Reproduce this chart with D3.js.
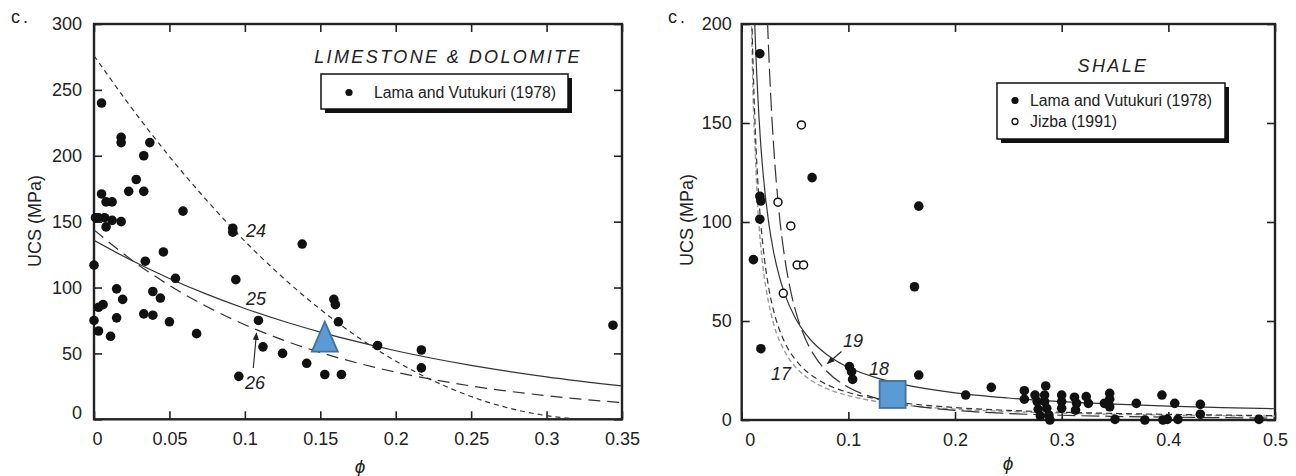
<!DOCTYPE html>
<html><head><meta charset="utf-8">
<script src="https://cdn.jsdelivr.net/npm/d3@7"></script>
<style>
body{margin:0;background:#fff;}
svg{display:block;font-family:"Liberation Sans",Arial,Helvetica,sans-serif;}
</style>
</head><body>
<svg id="chart" width="1296" height="476"></svg>
<script>
// ---------- LIMESTONE & DOLOMITE (left panel) ----------
const limeXTicks = [0, 0.05, 0.1, 0.15, 0.2, 0.25, 0.3, 0.35];
const limeYTicks = [0, 50, 100, 150, 200, 250, 300];
const limePhi = [0.005,0.018,0.018,0.037,0.033,0.028,0.023,0.033,0.005,0.008,0.012,0.059,0.001,0.003,0.007,0.012,0.018,0.008,0.092,0.092,
  0.000,0.034,0.046,0.054,0.094,0.138,0.015,0.019,0.006,0.003,0.039,0.044,0.033,0.039,0.050,0.015,0.000,0.003,0.011,0.068,
  0.109,0.112,0.125,0.141,0.096,0.153,0.164,0.159,0.160,0.162,0.188,0.217,0.217,0.344];
const limeUCS = [240,214,210,210,200,182,173,173,171,165,165,158,153,153,153,151,150,146,145,142,
  117,120,127,107,106,133,99,91,87,85,97,92,80,79,74,77,75,67,63,65,
  75,55,50,42.5,32.6,34,34,91,87,74,56,52.6,39,71.4];
// curve 24 (short dash)
const lime24Phi = [0,0.025,0.05,0.075,0.1,0.125,0.15,0.175,0.2,0.225,0.25,0.275,0.3,0.32,0.333];
const lime24UCS = [276,236.2,199.4,165.8,135.2,107.8,83.5,62.3,44.2,29.2,17.3,8.5,2.8,0.4,0];
// curve 25 (solid)
const lime25Phi = [0,0.025,0.05,0.075,0.1,0.125,0.15,0.175,0.2,0.25,0.3,0.35];
const lime25UCS = [135.9,120.5,106.9,94.8,84.1,74.6,66.2,58.7,52.0,40.9,32.2,25.3];
// curve 26 (long dash)
const lime26Phi = [0,0.025,0.05,0.075,0.1,0.125,0.15,0.175,0.2,0.25,0.3,0.35];
const lime26UCS = [143.8,120.9,101.6,85.4,71.8,60.3,50.7,42.6,35.8,25.3,17.9,12.6];
const limeStudyPhi = [0.153];
const limeStudyUCS = [62.7];

// ---------- SHALE (right panel) ----------
const shaleXTicks = [0, 0.1, 0.2, 0.3, 0.4, 0.5];
const shaleYTicks = [0, 50, 100, 150, 200];
const shaleLamaPhi = [0.017,0.017,0.018,0.017,0.066,0.166,0.011,0.162,0.018,0.101,0.103,0.104,0.166,0.210,0.234,
  0.265,0.265,0.275,0.277,0.278,0.280,0.285,0.284,0.284,0.286,0.288,0.289,0.300,0.300,0.300,
  0.312,0.314,0.313,0.323,0.325,0.340,0.345,0.345,0.345,0.350,0.370,0.378,0.394,0.406,0.395,0.399,0.409,0.430,0.430,0.485];
const shaleLamaUCS = [185,113,110.6,101.4,122.4,108,81,67.3,36,27,24.4,20.5,22.7,12.6,16.5,
  14.8,10.5,12.6,9.3,5.4,2.0,17.2,12.6,9.3,5.9,2.5,0,12.6,9.3,5.9,
  11.5,8.4,5.0,11.8,8.4,8.4,13.5,10.5,6.7,0.3,8.4,0,12.6,8.4,0,0.3,0.3,7.9,2.9,0.3];
const shaleJizbaPhi = [0.056,0.034,0.046,0.052,0.058,0.039];
const shaleJizbaUCS = [149,110,98,78.3,78.3,64];
// curve 17 (black dash)
const shale17Phi = [0.009,0.0097,0.011,0.012,0.0135,0.015,0.0175,0.02,0.025,0.03,0.035,0.04,0.05,0.06,0.07,0.08,0.1,0.125,0.15,0.2,0.25,0.3,0.35,0.4,0.45,0.5];
const shale17UCS = [218,200,173,157,137,121.5,101.9,87.5,67.8,55.0,46.1,39.6,30.7,24.9,20.9,17.9,13.9,10.8,8.74,6.29,4.88,3.96,3.32,2.85,2.49,2.21];
// grey dashed companion curve
const shaleGreyPhi = [0.0085,0.0094,0.011,0.0125,0.015,0.0175,0.02,0.025,0.03,0.04,0.05,0.06,0.08,0.1,0.125,0.15,0.2,0.25,0.3,0.35,0.4,0.45,0.5];
const shaleGreyUCS = [215,195,158,138,108,90,77,60,48.5,35,27,22,15.8,12.3,9.5,7.7,5.5,4.3,3.5,2.9,2.5,2.2,1.95];
// curve 18 (solid)
const shale18Phi = [0.011,0.0125,0.015,0.0175,0.02,0.025,0.03,0.035,0.04,0.05,0.06,0.07,0.08,0.1,0.125,0.15,0.2,0.25,0.3,0.35,0.4,0.45,0.5];
const shale18UCS = [221.8,196.2,164.7,142.0,124.9,100.8,84.6,73.0,64.2,51.8,43.5,37.5,33.0,26.6,21.5,18.1,13.7,11.1,9.28,8.01,7.04,6.29,5.68];
// curve 19 (long dash)
const shale19Phi = [0.022,0.0243,0.0275,0.03,0.035,0.04,0.045,0.05,0.06,0.07,0.08,0.1,0.125,0.15,0.2,0.25,0.3,0.35,0.4,0.45,0.5];
const shale19UCS = [238,200,160.7,137.9,105.1,83.1,67.5,56.1,40.7,31.0,24.5,16.5,11.2,8.09,4.88,3.29,2.39,1.82,1.44,1.17,0.97];
const shaleStudyPhi = [0.1415];
const shaleStudyUCS = [12.9];

// ---------- drawing ----------
const svg = d3.select("#chart");
const INK = "#222";
const BLUE = "#5b9bd5", BLUE_EDGE = "#41719c";
const zip = (a, b) => a.map((v, i) => [v, b[i]]);

const defs = svg.append("defs");
defs.append("marker").attr("id","arrow").attr("viewBox","0 0 10 10").attr("refX",9).attr("refY",5)
  .attr("markerWidth",7).attr("markerHeight",7).attr("orient","auto-start-reverse")
  .append("path").attr("d","M0,1 L10,5 L0,9 Z").attr("fill",INK);

function panel(cfg) {
  const x = d3.scaleLinear().domain(cfg.xDomain).range([cfg.left, cfg.right]);
  const y = d3.scaleLinear().domain(cfg.yDomain).range([cfg.bottom, cfg.top]);
  const g = svg.append("g");
  const clipId = "clip" + cfg.id;
  defs.append("clipPath").attr("id", clipId).append("rect")
    .attr("x", cfg.left).attr("y", cfg.top).attr("width", cfg.right - cfg.left).attr("height", cfg.bottom - cfg.top);

  const fmt = d => String(+d.toFixed(2));
  const axStyle = sel => {
    sel.select(".domain").remove();
    sel.selectAll(".tick line").attr("stroke", INK).attr("stroke-width", 1.6);
    sel.selectAll(".tick text").attr("fill", INK).attr("font-size", 18);
  };
  const gb = g.append("g").attr("transform", `translate(0,${cfg.bottom})`)
    .call(d3.axisBottom(x).tickValues(cfg.xTicks).tickSize(-8).tickPadding(13).tickFormat(fmt)).call(axStyle);
  gb.selectAll(".tick text").filter(d => d === 0).attr("dx", cfg.zeroXShift);
  const gl = g.append("g").attr("transform", `translate(${cfg.left},0)`)
    .call(d3.axisLeft(y).tickValues(cfg.yTicks).tickSize(-8).tickPadding(cfg.yPad).tickFormat(fmt)).call(axStyle);
  gl.selectAll(".tick text").filter(d => d === 0).attr("dy", cfg.zeroYShift);
  g.append("g").attr("transform", `translate(0,${cfg.top})`)
    .call(d3.axisTop(x).tickValues(cfg.xTicks).tickSize(-8).tickFormat("")).call(axStyle);
  g.append("g").attr("transform", `translate(${cfg.right},0)`)
    .call(d3.axisRight(y).tickValues(cfg.yTicks).tickSize(-8).tickFormat("")).call(axStyle);

  g.append("rect").attr("x", cfg.left).attr("y", cfg.top)
    .attr("width", cfg.right - cfg.left).attr("height", cfg.bottom - cfg.top)
    .attr("fill", "none").attr("stroke", INK).attr("stroke-width", 2.4);

  const line = d3.line().x(d => x(d[0])).y(d => y(d[1])).curve(d3.curveMonotoneX);
  const curves = g.append("g").attr("clip-path", `url(#${clipId})`);
  cfg.curves.forEach(c => {
    curves.append("path").attr("d", line(c.data)).attr("fill", "none")
      .attr("stroke", c.color || "#333").attr("stroke-width", c.width || 1.2)
      .attr("stroke-dasharray", c.dash || null);
  });

  const pts = g.append("g");
  cfg.filled.forEach(d => pts.append("circle").attr("cx", x(d[0])).attr("cy", y(d[1])).attr("r", 4.8).attr("fill", "#111"));
  (cfg.open || []).forEach(d => pts.append("circle").attr("cx", x(d[0])).attr("cy", y(d[1])).attr("r", 4)
    .attr("fill", "#fff").attr("stroke", "#111").attr("stroke-width", 1.5));

  // curve number labels
  cfg.labels.forEach(l => g.append("text").attr("x", l.x).attr("y", l.y).attr("text-anchor", "middle")
    .attr("font-size", 18).attr("font-style", "italic").attr("fill", INK).text(l.t));
  cfg.arrows.forEach(a => g.append("line").attr("x1", a[0]).attr("y1", a[1]).attr("x2", a[2]).attr("y2", a[3])
    .attr("stroke", INK).attr("stroke-width", 1.1).attr("marker-end", "url(#arrow)"));

  // title
  g.append("text").attr("x", cfg.titleX).attr("y", cfg.titleY).attr("text-anchor", "middle")
    .attr("font-size", 18).attr("font-style", "italic").attr("letter-spacing", 2.4).attr("fill", INK).text(cfg.title);

  // legend
  const L = cfg.legend;
  g.append("rect").attr("x", L.x + 4).attr("y", L.y + 4).attr("width", L.w).attr("height", L.h).attr("fill", "#111");
  g.append("rect").attr("x", L.x).attr("y", L.y).attr("width", L.w).attr("height", L.h)
    .attr("fill", "#fff").attr("stroke", "#111").attr("stroke-width", 1.5);
  L.items.forEach((it, i) => {
    const cy = L.y + L.firstY + i * L.step;
    g.append("circle").attr("cx", L.x + L.dotX).attr("cy", cy).attr("r", it.open ? 3 : 3.6)
      .attr("fill", it.open ? "#fff" : "#111").attr("stroke", "#111").attr("stroke-width", it.open ? 1.3 : 0);
    g.append("text").attr("x", L.x + L.textX).attr("y", cy + 5.8).attr("font-size", 16)
      .attr("textLength", it.len).attr("lengthAdjust", "spacingAndGlyphs")
      .attr("fill", INK).text(it.t);
  });

  // axis titles
  g.append("text").attr("transform", `translate(${cfg.yTitleX},${cfg.yTitleY}) rotate(-90)`)
    .attr("text-anchor", "middle").attr("font-size", 18).attr("fill", INK).text("UCS (MPa)");
  g.append("text").attr("x", cfg.phiX).attr("y", cfg.phiY).attr("text-anchor", "middle")
    .attr("font-size", 19).attr("font-style", "italic").attr("fill", INK).text("\u03D5");
  g.append("text").attr("x", cfg.cX).attr("y", 23).attr("font-size", 18).attr("letter-spacing", 3)
    .attr("fill", INK).text("c.");

  return {g, x, y};
}

// left
const P1 = panel({
  id: 1, left: 94, right: 622, top: 24, bottom: 419.3,
  xDomain: [0, 0.35], yDomain: [0, 300], xTicks: limeXTicks, yTicks: limeYTicks,
  zeroXShift: 3, zeroYShift: "-0.05em", yPad: 12,
  curves: [
    {data: zip(lime24Phi, lime24UCS), dash: "5,4"},
    {data: zip(lime25Phi, lime25UCS)},
    {data: zip(lime26Phi, lime26UCS), dash: "12,7"}
  ],
  filled: zip(limePhi, limeUCS),
  labels: [{x: 256, y: 237, t: "24"}, {x: 256, y: 305, t: "25"}, {x: 255, y: 389, t: "26"}],
  arrows: [[253.3, 368, 256.5, 333]],
  title: "LIMESTONE & DOLOMITE", titleX: 448, titleY: 63,
  legend: {x: 321, y: 74, w: 247, h: 35, dotX: 28, textX: 53, firstY: 18.5, step: 20,
    items: [{t: "Lama and Vutukuri (1978)", len: 182}]},
  yTitleX: 41, yTitleY: 221, phiX: 360, phiY: 473, cX: 11
});
// study-area triangle
P1.g.append("path")
  .attr("transform", `translate(${P1.x(limeStudyPhi[0])},${P1.y(limeStudyUCS[0])})`)
  .attr("d", "M0,-15 L13,15 L-13,15 Z").attr("fill", BLUE).attr("stroke", BLUE_EDGE).attr("stroke-width", 1.8);

// right
const P2 = panel({
  id: 2, left: 741.7, right: 1275, top: 24, bottom: 420,
  xDomain: [0, 0.5], yDomain: [0, 200], xTicks: shaleXTicks, yTicks: shaleYTicks,
  zeroXShift: 8, zeroYShift: "0.32em", yPad: 10,
  curves: [
    {data: zip(shaleGreyPhi, shaleGreyUCS), dash: "5,3", color: "#9a9a9a", width: 1.4},
    {data: zip(shale17Phi, shale17UCS), dash: "6,4"},
    {data: zip(shale18Phi, shale18UCS)},
    {data: zip(shale19Phi, shale19UCS), dash: "18,6"}
  ],
  filled: zip(shaleLamaPhi, shaleLamaUCS),
  open: zip(shaleJizbaPhi, shaleJizbaUCS),
  labels: [{x: 781, y: 380, t: "17"}, {x: 879, y: 375, t: "18"}, {x: 853, y: 347, t: "19"}],
  arrows: [[841.5, 351.5, 827.5, 363.5]],
  title: "SHALE", titleX: 1113, titleY: 71.5,
  legend: {x: 997, y: 83, w: 228, h: 56, dotX: 18, textX: 33, firstY: 17.5, step: 21,
    items: [{t: "Lama and Vutukuri (1978)", len: 182}, {t: "Jizba (1991)", len: 87, open: true}]},
  yTitleX: 693, yTitleY: 220, phiX: 1008, phiY: 470, cX: 668
});
// study-area square
P2.g.append("rect")
  .attr("x", P2.x(shaleStudyPhi[0]) - 13).attr("y", P2.y(shaleStudyUCS[0]) - 13.5)
  .attr("width", 26).attr("height", 27).attr("fill", BLUE).attr("stroke", BLUE_EDGE).attr("stroke-width", 1.8);
</script>
</body></html>
